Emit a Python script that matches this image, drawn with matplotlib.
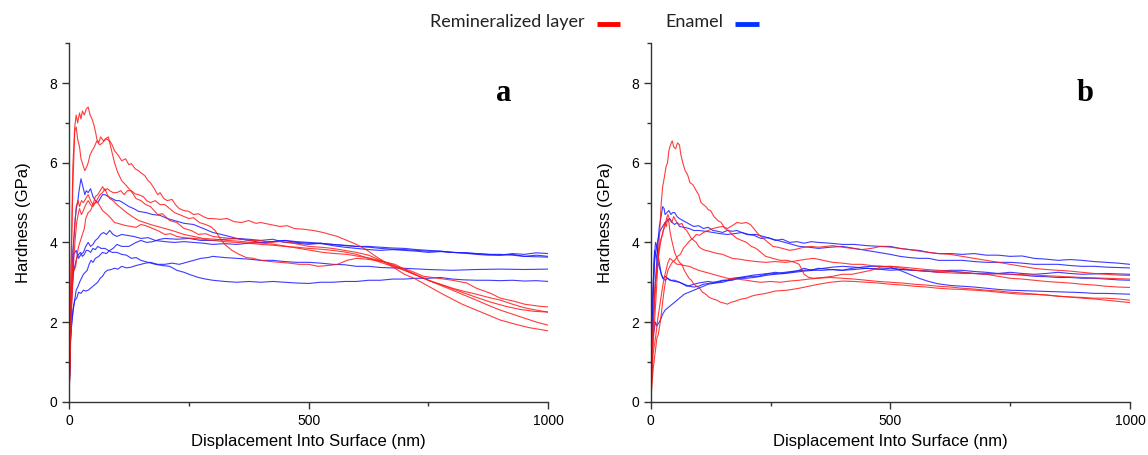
import matplotlib
matplotlib.use("Agg")
import matplotlib.pyplot as plt
from matplotlib.ticker import MultipleLocator

plt.rcParams['font.family'] = ['Liberation Sans', 'DejaVu Sans']

# ---- panel a : remineralized layer (red) ----
ra1_x = [0, 4, 8, 12, 15, 18, 22, 25, 28, 32, 36, 40, 44, 48, 52, 55, 58, 62, 66, 72, 78, 85, 90, 95, 102, 110, 118, 125, 130, 138, 145, 150, 158, 165, 170, 178, 185, 190, 198, 205, 215, 222, 230, 240, 250, 260, 270, 280, 290, 300, 315, 330, 345, 360, 375, 390, 400, 420, 440, 455, 470, 490, 510, 530, 560, 580, 600, 620, 640, 660, 680, 700, 720, 750, 780, 820, 860, 900, 930, 960, 1000]
ra1_y = [0, 3.2, 5.9, 6.9, 7.2, 7.0, 7.25, 7.1, 7.3, 7.2, 7.35, 7.4, 7.2, 7.1, 6.95, 6.8, 6.6, 6.5, 6.65, 6.55, 6.6, 6.55, 6.45, 6.3, 6.2, 6.05, 6.1, 5.95, 5.98, 5.85, 5.8, 5.75, 5.68, 5.55, 5.5, 5.35, 5.2, 5.25, 5.1, 5.05, 5.08, 4.95, 4.85, 4.8, 4.78, 4.7, 4.72, 4.65, 4.6, 4.6, 4.58, 4.6, 4.52, 4.5, 4.55, 4.48, 4.5, 4.45, 4.4, 4.42, 4.35, 4.33, 4.3, 4.25, 4.15, 4.05, 3.95, 3.82, 3.65, 3.5, 3.35, 3.2, 3.1, 2.9, 2.7, 2.45, 2.25, 2.05, 1.95, 1.86, 1.78]
ra2_x = [0, 4, 8, 12, 15, 18, 22, 25, 29, 33, 37, 40, 44, 48, 53, 58, 64, 70, 76, 82, 88, 95, 102, 110, 118, 125, 132, 140, 150, 160, 170, 185, 195, 210, 225, 240, 255, 270, 285, 300, 320, 340, 360, 380, 400, 420, 440, 460, 480, 500, 525, 550, 575, 600, 625, 650, 680, 700, 730, 760, 790, 820, 850, 880, 910, 940, 970, 1000]
ra2_y = [0, 3.0, 5.4, 6.8, 6.9, 6.6, 6.4, 6.1, 5.95, 5.8, 5.9, 6.0, 6.2, 6.3, 6.4, 6.55, 6.45, 6.5, 6.6, 6.65, 6.35, 6.0, 5.75, 5.55, 5.45, 5.35, 5.25, 5.1, 5.05, 4.95, 4.9, 4.7, 4.72, 4.55, 4.5, 4.35, 4.3, 4.2, 4.22, 4.15, 4.12, 4.1, 4.08, 4.05, 4.05, 4.0, 4.02, 4.0, 3.95, 3.9, 3.88, 3.85, 3.8, 3.75, 3.68, 3.55, 3.42, 3.3, 3.15, 3.0, 2.88, 2.75, 2.62, 2.5, 2.4, 2.32, 2.27, 2.25]
ra3_x = [0, 5, 10, 15, 19, 22, 26, 30, 35, 40, 45, 50, 55, 60, 65, 70, 75, 80, 85, 92, 100, 108, 115, 122, 130, 138, 145, 155, 162, 170, 180, 190, 200, 210, 220, 230, 240, 250, 260, 272, 285, 295, 305, 315, 325, 340, 355, 370, 385, 400, 420, 440, 460, 480, 500, 520, 540, 560, 580, 600, 620, 640, 660, 680, 710, 740, 770, 800, 830, 850, 880, 900, 930, 950, 980, 1000]
ra3_y = [0, 2.5, 4.1, 4.9, 5.05, 4.9, 5.05, 5.0, 5.1, 5.2, 5.05, 4.95, 5.15, 5.2, 5.3, 5.4, 5.3, 5.35, 5.3, 5.25, 5.25, 5.3, 5.2, 5.3, 5.3, 5.22, 5.2, 5.15, 5.05, 5.0, 5.05, 4.95, 4.95, 4.85, 4.75, 4.7, 4.65, 4.6, 4.62, 4.5, 4.45, 4.4, 4.3, 4.1, 3.95, 3.8, 3.7, 3.62, 3.6, 3.55, 3.52, 3.5, 3.48, 3.45, 3.45, 3.4, 3.42, 3.45, 3.55, 3.6, 3.58, 3.55, 3.5, 3.4, 3.3, 3.15, 3.1, 3.05, 2.98, 2.85, 2.72, 2.6, 2.52, 2.45, 2.4, 2.38]
ra4_x = [0, 5, 10, 13, 16, 19, 22, 26, 30, 35, 40, 45, 50, 55, 60, 65, 70, 75, 80, 88, 95, 102, 110, 120, 130, 140, 150, 160, 175, 188, 200, 212, 225, 240, 260, 280, 300, 325, 350, 375, 400, 425, 450, 475, 500, 525, 550, 575, 600, 625, 650, 675, 700, 725, 750, 775, 800, 825, 850, 875, 900, 925, 950, 975, 1000]
ra4_y = [0, 2.2, 3.6, 4.1, 4.5, 4.7, 4.85, 4.7, 4.8, 4.95, 5.05, 4.95, 4.9, 5.0, 5.0, 4.9, 4.8, 4.75, 4.7, 4.6, 4.5, 4.48, 4.45, 4.42, 4.4, 4.38, 4.45, 4.42, 4.35, 4.28, 4.2, 4.22, 4.15, 4.12, 4.1, 4.08, 4.05, 4.02, 4.0, 3.98, 3.95, 3.93, 3.9, 3.88, 3.85, 3.83, 3.8, 3.76, 3.7, 3.6, 3.5, 3.4, 3.3, 3.18, 3.05, 2.95, 2.85, 2.77, 2.7, 2.62, 2.55, 2.45, 2.36, 2.3, 2.25]
ra5_x = [0, 4, 8, 11, 14, 17, 20, 24, 28, 32, 35, 40, 45, 50, 55, 60, 65, 70, 75, 80, 85, 92, 100, 110, 120, 132, 145, 158, 170, 185, 200, 220, 240, 260, 280, 305, 330, 355, 380, 405, 430, 455, 480, 505, 530, 555, 580, 605, 630, 655, 680, 705, 730, 760, 790, 820, 850, 875, 900, 925, 950, 975, 1000]
ra5_y = [0, 2.0, 3.5, 3.3, 3.4, 3.7, 3.9, 4.05, 4.2, 4.35, 4.6, 4.75, 4.8, 4.95, 5.0, 5.1, 5.2, 5.25, 5.35, 5.2, 5.1, 5.05, 4.95, 4.85, 4.75, 4.65, 4.55, 4.5, 4.45, 4.4, 4.35, 4.28, 4.2, 4.15, 4.1, 4.08, 4.05, 4.03, 4.0, 3.98, 3.95, 3.9, 3.85, 3.8, 3.75, 3.72, 3.7, 3.65, 3.6, 3.52, 3.45, 3.3, 3.15, 3.0, 2.85, 2.7, 2.55, 2.42, 2.3, 2.2, 2.1, 2.0, 1.92]

# ---- panel a : enamel (blue) ----
ba1_x = [0, 4, 8, 11, 13, 16, 18, 21, 25, 28, 30, 33, 36, 40, 45, 50, 55, 60, 65, 70, 75, 82, 90, 98, 105, 115, 125, 135, 145, 160, 175, 190, 205, 220, 240, 260, 280, 300, 325, 350, 375, 400, 425, 450, 475, 500, 525, 550, 575, 600, 625, 650, 675, 700, 725, 750, 775, 800, 825, 850, 875, 900, 925, 950, 975, 1000]
ba1_y = [0, 2.4, 3.8, 4.2, 4.6, 4.9, 5.0, 5.3, 5.6, 5.45, 5.35, 5.2, 5.3, 5.25, 5.35, 5.15, 5.05, 5.0, 5.1, 5.2, 5.2, 5.15, 5.1, 5.05, 5.05, 4.98, 4.9, 4.85, 4.78, 4.75, 4.7, 4.68, 4.6, 4.55, 4.48, 4.45, 4.35, 4.25, 4.18, 4.1, 4.08, 4.05, 4.08, 4.0, 3.98, 3.95, 3.98, 3.92, 3.88, 3.85, 3.82, 3.8, 3.82, 3.8, 3.78, 3.75, 3.77, 3.75, 3.74, 3.72, 3.7, 3.68, 3.7, 3.65, 3.68, 3.65]
ba2_x = [0, 4, 10, 15, 20, 25, 30, 35, 40, 45, 50, 55, 60, 66, 72, 78, 85, 92, 100, 110, 120, 135, 150, 165, 180, 200, 220, 240, 260, 280, 300, 325, 350, 375, 400, 425, 450, 475, 500, 525, 550, 575, 600, 625, 650, 675, 700, 725, 750, 775, 800, 825, 850, 875, 900, 925, 950, 975, 1000]
ba2_y = [0, 2.2, 3.7, 3.8, 3.6, 3.7, 3.75, 3.9, 4.0, 3.9, 3.95, 4.05, 4.1, 4.2, 4.25, 4.2, 4.3, 4.2, 4.15, 4.2, 4.18, 4.15, 4.1, 4.12, 4.05, 4.02, 4.0, 4.02, 4.0, 3.98, 3.95, 3.97, 3.95, 3.98, 4.0, 4.02, 4.05, 4.0, 3.98, 3.97, 3.95, 3.92, 3.9, 3.88, 3.85, 3.83, 3.82, 3.8, 3.78, 3.78, 3.75, 3.73, 3.7, 3.68, 3.68, 3.72, 3.7, 3.74, 3.72]
ba3_x = [0, 4, 10, 16, 20, 24, 28, 32, 36, 40, 45, 50, 55, 60, 67, 75, 82, 90, 100, 110, 120, 130, 140, 150, 165, 180, 195, 210, 225, 240, 255, 270, 285, 300, 325, 350, 375, 400, 425, 450, 475, 500, 525, 550, 575, 600, 625, 650, 675, 700, 725, 750, 775, 800, 825, 850, 875, 900, 925, 950, 975, 1000]
ba3_y = [0, 2.5, 3.3, 3.6, 3.7, 3.75, 3.65, 3.7, 3.8, 3.8, 3.75, 3.85, 3.82, 3.9, 3.85, 3.85, 3.8, 3.75, 3.75, 3.7, 3.68, 3.6, 3.62, 3.55, 3.5, 3.45, 3.42, 3.4, 3.3, 3.25, 3.18, 3.12, 3.08, 3.05, 3.02, 3.0, 3.02, 3.0, 3.02, 3.0, 2.98, 2.97, 3.0, 3.0, 3.02, 3.02, 3.05, 3.05, 3.08, 3.08, 3.1, 3.1, 3.12, 3.08, 3.06, 3.05, 3.05, 3.04, 3.05, 3.03, 3.04, 3.02]
ba4_x = [0, 3, 8, 12, 16, 20, 25, 30, 35, 40, 45, 50, 55, 60, 65, 70, 75, 80, 88, 95, 102, 110, 120, 130, 140, 150, 160, 170, 185, 200, 215, 230, 245, 260, 275, 290, 300, 325, 350, 375, 400, 425, 450, 475, 500, 525, 550, 575, 600, 625, 650, 675, 700, 750, 800, 850, 900, 950, 1000]
ba4_y = [0, 1.6, 2.3, 2.55, 2.6, 2.75, 2.72, 2.8, 2.78, 2.8, 2.85, 2.9, 2.95, 3.0, 3.1, 3.15, 3.25, 3.3, 3.32, 3.35, 3.33, 3.4, 3.36, 3.38, 3.42, 3.45, 3.48, 3.5, 3.45, 3.45, 3.48, 3.45, 3.5, 3.55, 3.6, 3.62, 3.65, 3.62, 3.6, 3.58, 3.55, 3.55, 3.52, 3.5, 3.5, 3.48, 3.45, 3.44, 3.4, 3.4, 3.37, 3.36, 3.35, 3.32, 3.3, 3.32, 3.33, 3.32, 3.33]
ba5_x = [0, 3, 6, 10, 15, 19, 22, 26, 30, 34, 38, 42, 46, 50, 55, 62, 70, 78, 85, 92, 100, 110, 125, 140, 150, 162, 175, 190, 200, 225, 250, 275, 300, 325, 350, 375, 400, 425, 450, 475, 500, 525, 550, 575, 600, 625, 650, 675, 700, 725, 750, 775, 800, 825, 850, 875, 900, 925, 950, 975, 1000]
ba5_y = [0, 1.5, 2.0, 2.4, 2.8, 2.9, 3.0, 3.1, 3.2, 3.25, 3.3, 3.45, 3.55, 3.5, 3.6, 3.65, 3.75, 3.72, 3.8, 3.85, 3.95, 3.9, 3.9, 4.0, 4.05, 4.0, 4.02, 4.08, 4.1, 4.08, 4.1, 4.05, 4.05, 4.08, 4.1, 4.05, 4.0, 4.02, 4.05, 4.02, 4.0, 3.98, 3.95, 3.93, 3.9, 3.9, 3.88, 3.86, 3.85, 3.82, 3.8, 3.78, 3.75, 3.74, 3.72, 3.7, 3.7, 3.68, 3.65, 3.64, 3.63]

# ---- panel b : remineralized layer (red) ----
rb1_x = [0, 4, 8, 12, 15, 19, 22, 25, 28, 32, 35, 38, 40, 43, 45, 48, 52, 56, 60, 63, 67, 72, 77, 82, 88, 95, 100, 105, 110, 115, 120, 125, 132, 140, 147, 155, 162, 170, 180, 190, 200, 210, 220, 230, 240, 255, 270, 285, 300, 310, 320, 330, 340, 360, 380, 400, 420, 440, 460, 480, 500, 525, 550, 575, 600, 650, 700, 750, 800, 850, 900, 950, 1000]
rb1_y = [0, 1.2, 2.0, 2.8, 3.5, 4.3, 5.0, 5.4, 5.6, 5.9, 6.0, 6.3, 6.4, 6.5, 6.55, 6.4, 6.35, 6.5, 6.45, 6.2, 6.0, 5.8, 5.7, 5.5, 5.45, 5.3, 5.2, 5.0, 4.95, 4.9, 4.82, 4.8, 4.65, 4.55, 4.5, 4.35, 4.3, 4.2, 4.1, 4.05, 4.0, 3.9, 3.85, 3.75, 3.65, 3.6, 3.55, 3.55, 3.5, 3.45, 3.2, 3.12, 3.1, 3.12, 3.15, 3.2, 3.2, 3.25, 3.3, 3.38, 3.4, 3.35, 3.3, 3.28, 3.25, 3.22, 3.22, 3.2, 3.18, 3.15, 3.12, 3.1, 3.08]
rb2_x = [0, 5, 10, 13, 16, 20, 24, 28, 32, 36, 40, 45, 50, 56, 62, 68, 75, 82, 88, 95, 102, 110, 120, 130, 140, 150, 160, 170, 180, 190, 200, 208, 215, 225, 235, 245, 255, 265, 275, 290, 300, 310, 320, 335, 350, 365, 380, 400, 420, 440, 460, 480, 500, 520, 540, 560, 580, 600, 625, 650, 675, 700, 725, 750, 775, 800, 825, 850, 875, 900, 925, 950, 975, 1000]
rb2_y = [0, 0.8, 1.3, 1.6, 1.7, 2.0, 2.4, 2.8, 3.1, 3.3, 3.4, 3.5, 3.55, 3.65, 3.7, 3.85, 3.95, 4.05, 4.1, 4.2, 4.18, 4.25, 4.3, 4.35, 4.38, 4.4, 4.35, 4.42, 4.5, 4.48, 4.5, 4.45, 4.35, 4.2, 4.1, 4.0, 3.9, 3.88, 3.85, 3.8, 3.82, 3.85, 3.88, 3.9, 3.88, 3.9, 3.92, 3.88, 3.85, 3.82, 3.85, 3.9, 3.88, 3.85, 3.82, 3.78, 3.75, 3.72, 3.7, 3.65, 3.6, 3.55, 3.5, 3.45, 3.4, 3.35, 3.32, 3.3, 3.28, 3.25, 3.22, 3.2, 3.18, 3.17]
rb3_x = [0, 5, 10, 15, 20, 25, 28, 32, 36, 40, 45, 50, 55, 60, 70, 80, 90, 100, 115, 130, 145, 160, 180, 200, 215, 230, 250, 270, 290, 310, 330, 350, 375, 400, 425, 450, 475, 500, 525, 550, 575, 600, 625, 650, 675, 700, 725, 750, 775, 800, 825, 850, 875, 900, 925, 950, 975, 1000]
rb3_y = [0, 1.2, 1.6, 2.1, 2.5, 2.9, 3.1, 3.3, 3.5, 3.6, 3.55, 3.5, 3.45, 3.45, 3.42, 3.4, 3.35, 3.3, 3.25, 3.2, 3.15, 3.1, 3.08, 3.05, 3.02, 3.0, 3.02, 3.0, 3.03, 3.05, 3.08, 3.1, 3.12, 3.1, 3.08, 3.05, 3.02, 3.0, 2.98, 2.95, 2.93, 2.9, 2.88, 2.85, 2.83, 2.8, 2.78, 2.75, 2.73, 2.7, 2.68, 2.65, 2.63, 2.6, 2.58, 2.55, 2.52, 2.49]
rb4_x = [0, 5, 10, 14, 18, 22, 25, 28, 30, 33, 35, 38, 40, 43, 45, 50, 55, 60, 65, 70, 75, 80, 85, 90, 96, 102, 108, 115, 122, 130, 138, 145, 152, 160, 168, 175, 182, 190, 200, 210, 220, 240, 260, 285, 310, 330, 350, 375, 400, 425, 450, 475, 500, 525, 550, 575, 600, 625, 650, 675, 700, 725, 750, 775, 800, 825, 850, 875, 900, 925, 950, 975, 1000]
rb4_y = [0, 1.8, 3.0, 3.5, 3.9, 4.1, 4.2, 4.4, 4.5, 4.4, 4.6, 4.5, 4.3, 4.1, 4.0, 3.75, 3.6, 3.5, 3.45, 3.3, 3.2, 3.1, 3.05, 2.95, 2.9, 2.85, 2.75, 2.7, 2.62, 2.58, 2.55, 2.5, 2.48, 2.45, 2.5, 2.52, 2.55, 2.58, 2.6, 2.65, 2.68, 2.72, 2.78, 2.8, 2.85, 2.9, 2.95, 3.0, 3.03, 3.02, 3.0, 2.98, 2.95, 2.93, 2.9, 2.88, 2.85, 2.83, 2.82, 2.8, 2.78, 2.75, 2.72, 2.7, 2.7, 2.68, 2.65, 2.63, 2.62, 2.6, 2.6, 2.58, 2.55]
rb5_x = [0, 5, 10, 15, 18, 22, 26, 30, 33, 36, 40, 44, 48, 52, 55, 60, 65, 70, 75, 80, 85, 90, 95, 100, 105, 110, 115, 122, 130, 140, 150, 160, 170, 185, 200, 220, 240, 260, 280, 295, 310, 325, 340, 360, 380, 400, 420, 440, 460, 480, 500, 525, 550, 575, 600, 625, 650, 675, 700, 725, 750, 775, 800, 825, 850, 875, 900, 925, 950, 975, 1000]
rb5_y = [0, 2.0, 3.0, 3.5, 3.8, 4.1, 4.3, 4.4, 4.6, 4.7, 4.55, 4.5, 4.65, 4.55, 4.5, 4.45, 4.48, 4.35, 4.3, 4.2, 4.1, 4.05, 4.0, 3.9, 3.85, 3.82, 3.8, 3.78, 3.75, 3.72, 3.7, 3.65, 3.6, 3.58, 3.55, 3.52, 3.5, 3.52, 3.5, 3.52, 3.55, 3.58, 3.6, 3.55, 3.5, 3.48, 3.45, 3.45, 3.42, 3.4, 3.4, 3.38, 3.35, 3.32, 3.3, 3.28, 3.25, 3.22, 3.2, 3.15, 3.1, 3.08, 3.05, 3.02, 3.0, 2.98, 2.95, 2.93, 2.9, 2.88, 2.87]

# ---- panel b : enamel (blue) ----
bb1_x = [0, 3, 7, 10, 14, 18, 21, 25, 28, 30, 34, 38, 42, 46, 50, 55, 60, 67, 75, 82, 90, 100, 110, 120, 130, 140, 150, 160, 170, 180, 190, 200, 215, 230, 245, 260, 275, 290, 305, 320, 335, 350, 375, 400, 425, 450, 480, 500, 520, 540, 560, 580, 600, 625, 650, 675, 700, 725, 750, 775, 800, 825, 850, 875, 900, 925, 950, 975, 1000]
bb1_y = [0, 1.5, 2.4, 3.0, 3.8, 4.4, 4.6, 4.9, 4.85, 4.7, 4.75, 4.8, 4.7, 4.75, 4.75, 4.65, 4.6, 4.55, 4.5, 4.45, 4.4, 4.42, 4.35, 4.38, 4.3, 4.28, 4.25, 4.3, 4.28, 4.3, 4.25, 4.2, 4.18, 4.1, 4.12, 4.05, 4.08, 4.0, 4.02, 3.98, 4.02, 4.0, 3.98, 3.95, 3.95, 3.92, 3.9, 3.9, 3.85, 3.82, 3.8, 3.75, 3.72, 3.72, 3.7, 3.72, 3.68, 3.68, 3.65, 3.66, 3.6, 3.58, 3.55, 3.57, 3.55, 3.52, 3.5, 3.48, 3.45]
bb2_x = [0, 4, 8, 11, 14, 17, 20, 25, 30, 35, 40, 45, 50, 55, 60, 70, 80, 90, 100, 115, 130, 145, 160, 175, 190, 205, 220, 235, 250, 265, 280, 295, 310, 330, 350, 375, 400, 425, 450, 475, 500, 520, 540, 560, 580, 600, 625, 650, 675, 700, 725, 750, 775, 800, 825, 850, 875, 900, 925, 950, 975, 1000]
bb2_y = [0, 2.2, 3.5, 3.8, 4.0, 4.2, 4.3, 4.4, 4.5, 4.55, 4.6, 4.5, 4.45, 4.5, 4.4, 4.38, 4.35, 4.3, 4.3, 4.28, 4.25, 4.22, 4.2, 4.22, 4.25, 4.2, 4.2, 4.15, 4.1, 4.05, 4.0, 3.95, 3.9, 3.88, 3.85, 3.88, 3.9, 3.85, 3.8, 3.75, 3.7, 3.65, 3.62, 3.6, 3.6, 3.55, 3.55, 3.55, 3.52, 3.5, 3.5, 3.5, 3.48, 3.45, 3.45, 3.45, 3.42, 3.4, 3.4, 3.38, 3.37, 3.36]
bb3_x = [0, 4, 8, 11, 15, 20, 25, 30, 35, 40, 50, 60, 68, 75, 82, 90, 100, 110, 120, 130, 140, 150, 160, 170, 185, 200, 215, 230, 245, 260, 275, 290, 305, 320, 335, 350, 375, 400, 425, 450, 475, 500, 525, 550, 575, 600, 625, 650, 675, 700, 725, 750, 775, 800, 825, 850, 875, 900, 925, 950, 975, 1000]
bb3_y = [0, 2.5, 3.8, 3.7, 3.5, 3.3, 3.1, 3.05, 3.1, 3.05, 3.02, 3.0, 2.95, 2.9, 2.92, 2.95, 2.98, 3.0, 3.02, 3.0, 3.02, 3.05, 3.05, 3.1, 3.12, 3.15, 3.18, 3.2, 3.22, 3.25, 3.22, 3.25, 3.28, 3.35, 3.3, 3.35, 3.32, 3.3, 3.32, 3.35, 3.33, 3.35, 3.32, 3.3, 3.28, 3.25, 3.27, 3.25, 3.22, 3.2, 3.22, 3.25, 3.22, 3.2, 3.22, 3.25, 3.22, 3.2, 3.21, 3.22, 3.21, 3.2]
bb4_x = [0, 3, 7, 10, 13, 15, 18, 22, 25, 30, 35, 40, 45, 50, 55, 60, 70, 80, 90, 100, 110, 120, 135, 150, 165, 180, 195, 210, 225, 240, 260, 280, 300, 320, 340, 360, 380, 400, 425, 450, 475, 500, 525, 550, 575, 600, 625, 650, 675, 700, 725, 750, 775, 800, 825, 850, 875, 900, 925, 950, 975, 1000]
bb4_y = [0, 1.5, 1.8, 2.0, 1.9, 1.95, 2.0, 2.1, 2.2, 2.3, 2.35, 2.4, 2.45, 2.5, 2.55, 2.6, 2.7, 2.75, 2.8, 2.85, 2.9, 2.95, 2.98, 3.0, 3.05, 3.1, 3.12, 3.15, 3.15, 3.2, 3.22, 3.25, 3.28, 3.3, 3.32, 3.35, 3.38, 3.4, 3.38, 3.35, 3.33, 3.3, 3.32, 3.3, 3.28, 3.28, 3.3, 3.3, 3.27, 3.25, 3.22, 3.2, 3.18, 3.15, 3.14, 3.12, 3.12, 3.1, 3.1, 3.08, 3.06, 3.05]
bb5_x = [0, 4, 7, 10, 13, 15, 18, 22, 26, 30, 35, 42, 50, 60, 70, 80, 90, 100, 110, 125, 140, 155, 170, 185, 200, 215, 230, 245, 260, 280, 300, 320, 340, 360, 380, 400, 420, 440, 460, 480, 500, 520, 540, 560, 580, 600, 625, 650, 675, 700, 725, 750, 775, 800, 825, 850, 875, 900, 925, 950, 975, 1000]
bb5_y = [0, 2.6, 3.5, 4.0, 3.9, 3.7, 3.5, 3.2, 3.1, 3.15, 3.1, 3.05, 3.05, 3.0, 2.95, 2.9, 2.88, 2.9, 2.95, 2.98, 3.0, 3.05, 3.05, 3.1, 3.1, 3.12, 3.15, 3.18, 3.2, 3.22, 3.25, 3.28, 3.3, 3.3, 3.32, 3.3, 3.35, 3.38, 3.4, 3.4, 3.38, 3.3, 3.2, 3.1, 3.02, 2.96, 2.92, 2.9, 2.88, 2.85, 2.82, 2.8, 2.79, 2.78, 2.77, 2.76, 2.75, 2.74, 2.72, 2.72, 2.71, 2.7]

red_a = [(ra1_x, ra1_y), (ra2_x, ra2_y), (ra3_x, ra3_y), (ra4_x, ra4_y), (ra5_x, ra5_y)]
blue_a = [(ba1_x, ba1_y), (ba2_x, ba2_y), (ba3_x, ba3_y), (ba4_x, ba4_y), (ba5_x, ba5_y)]
red_b = [(rb1_x, rb1_y), (rb2_x, rb2_y), (rb3_x, rb3_y), (rb4_x, rb4_y), (rb5_x, rb5_y)]
blue_b = [(bb1_x, bb1_y), (bb2_x, bb2_y), (bb3_x, bb3_y), (bb4_x, bb4_y), (bb5_x, bb5_y)]

panels = [("a", red_a, blue_a, 0.0601), ("b", red_b, blue_b, 0.5668)]

fig = plt.figure(figsize=(11.48, 4.55), dpi=100)

for letter, reds, blues, left in panels:
    ax = fig.add_axes([left, 0.1171, 0.4175, 0.7877])
    for xs, ys in blues:
        ax.plot(xs, ys, color='#1a1aff', lw=0.8, alpha=0.85)
    for xs, ys in reds:
        ax.plot(xs, ys, color='#ff1a1a', lw=0.8, alpha=0.85)
    ax.set_xlim(0, 1000)
    ax.set_ylim(0, 9)
    ax.xaxis.set_major_locator(MultipleLocator(500))
    ax.xaxis.set_minor_locator(MultipleLocator(250))
    ax.yaxis.set_major_locator(MultipleLocator(2))
    ax.yaxis.set_minor_locator(MultipleLocator(1))
    ax.spines['top'].set_visible(False)
    ax.spines['right'].set_visible(False)
    for s in ('left', 'bottom'):
        ax.spines[s].set_linewidth(1.0)
        ax.spines[s].set_color('#333333')
    ax.tick_params(which='major', length=5, width=1.0, labelsize=10, color='#333333')
    ax.tick_params(which='minor', length=3, width=1.0, color='#333333')
    ax.set_xlabel('Displacement Into Surface (nm)', fontsize=12, labelpad=5)
    ax.set_ylabel('Hardness (GPa)', fontsize=12, labelpad=13)
    ax.text(907, 7.75, letter, fontsize=22, fontweight='bold',
            family='Liberation Serif', ha='center', va='center')

# legend at top
fig.text(430 / 1148, 1 - 22 / 455, 'Remineralized layer', fontsize=13,
         family=['Lato', 'DejaVu Sans'], va='center', ha='left', color='#222222')
fig.add_artist(plt.Line2D([597 / 1148, 620 / 1148], [1 - 24 / 455] * 2,
                          color='#ff0000', lw=3.5, solid_capstyle='butt'))
fig.text(665 / 1148, 1 - 22 / 455, 'Enamel', fontsize=13,
         family=['Lato', 'DejaVu Sans'], va='center', ha='left', color='#222222')
fig.add_artist(plt.Line2D([735 / 1148, 759 / 1148], [1 - 24 / 455] * 2,
                          color='#0033ff', lw=3.5, solid_capstyle='butt'))

fig.savefig('out.png', dpi=100)
